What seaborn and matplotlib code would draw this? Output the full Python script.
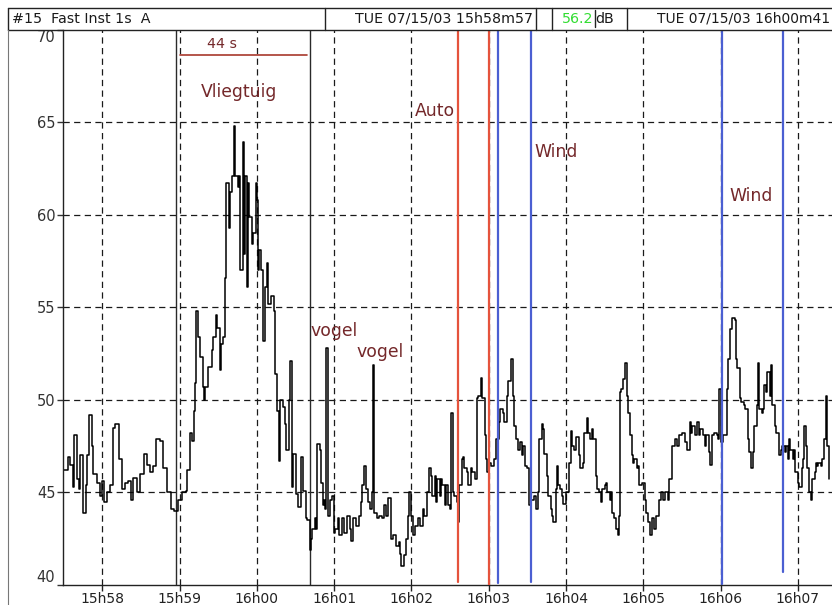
import matplotlib
matplotlib.use("Agg")
import matplotlib.pyplot as plt
import seaborn as sns
import pandas as pd

# Sound level log, A-weighted, fast, 1 s - seconds after 15h58m00
time_s = [
    -30, -27, -25, -23, -22, -20, -18, -17, -15, -13, -12, -10, -8, -7, -4, -2,
    0, 1, 4, 6, 8, 10, 13, 15, 18, 20, 22, 24, 27, 29, 32, 35, 37, 39, 42, 45,
    47, 50, 53, 56, 59, 62, 65, 66, 68, 70, 71, 72, 73, 74, 76, 78, 79, 80, 82,
    85, 86, 88, 89, 91, 92, 94, 95, 96, 98, 99, 101, 102, 103, 105, 106, 107,
    109, 110, 111, 112, 113, 114, 116, 117, 119, 120, 121, 122, 123, 125, 126,
    128, 129, 131, 133, 134, 136, 137, 138, 140, 142, 143, 145, 146, 147, 148,
    150, 152, 154, 156, 158, 159, 161, 162, 163, 165, 166, 167, 169, 170, 171,
    172, 173, 174, 175, 177, 178, 180, 181, 183, 184, 186, 188, 190, 192, 193,
    195, 197, 199, 201, 202, 203, 205, 206, 208, 209, 210, 211, 213, 215, 217,
    219, 220, 222, 224, 226, 228, 230, 231, 232, 234, 236, 237, 238, 240, 241,
    243, 245, 247, 249, 250, 252, 254, 255, 256, 258, 259, 260, 262, 263, 264,
    266, 267, 268, 270, 271, 272, 273, 275, 276, 277, 279, 280, 281, 283, 284,
    286, 287, 289, 291, 292, 294, 295, 297, 298, 299, 300, 302, 304, 306, 308,
    309, 311, 312, 314, 315, 317, 319, 320, 321, 323, 324, 326, 327, 328, 330,
    331, 333, 335, 337, 338, 339, 341, 342, 343, 345, 346, 348, 349, 350, 352,
    353, 354, 355, 357, 358, 360, 362, 364, 365, 366, 368, 370, 371, 373, 374,
    376, 377, 379, 380, 381, 383, 384, 386, 387, 388, 390, 391, 392, 394, 395,
    396, 397, 399, 400, 401, 402, 403, 404, 406, 407, 408, 410, 411, 412, 413,
    415, 416, 417, 419, 421, 422, 424, 425, 427, 428, 430, 432, 434, 435, 437,
    439, 440, 442, 444, 445, 446, 448, 450, 452, 454, 456, 457, 458, 460, 462,
    463, 464, 466, 468, 469, 471, 472, 473, 475, 477, 478, 479, 480, 482, 483,
    485, 486, 487, 489, 491, 492, 493, 495, 496, 498, 499, 501, 502, 504, 505,
    506, 508, 509, 510, 512, 513, 514, 515, 516, 518, 519, 520, 522, 523, 524,
    525, 527, 528, 530, 531, 532, 533, 534, 536, 537, 538, 540, 541, 543, 544,
    545, 546, 547, 549, 550, 551, 553, 554, 555, 556, 558, 559, 560, 562, 563,
    564,
]
level_db = [
    46.2, 46.9, 46.5, 45.3, 48.1, 45.7, 45.2, 47.0, 43.9, 45.4, 47.0, 49.2, 47.5, 46.0, 45.5, 44.8,
    45.6, 44.5, 45.0, 45.4, 48.5, 48.7, 46.8, 45.2, 45.5, 45.6, 44.6, 45.8, 45.0, 46.0, 47.1, 46.5, 46.1, 46.4, 47.9, 47.8,
    46.3, 45.0, 44.1, 44.0, 44.6, 45.0, 45.1, 46.2, 48.2, 47.8, 49.4, 50.9, 54.8, 53.4, 52.3, 50.7, 50.0, 50.7, 51.8,
    52.7, 53.4, 54.6, 53.9, 51.6, 53.0, 53.4, 56.6, 61.7, 59.3, 61.2, 62.1, 64.8, 62.1, 61.5, 62.1, 57.0,
    63.9, 57.9, 62.1, 56.1, 61.7, 59.9, 58.4, 59.0, 61.7, 60.8, 57.0, 58.1, 57.0, 53.2, 56.1,
    57.4, 55.2, 55.6, 54.8, 51.4, 49.4, 46.7, 50.0, 49.6, 48.7, 47.3, 50.0, 52.1, 45.3, 47.1,
    44.9, 44.2, 46.9, 45.1, 43.6, 43.5, 41.9, 42.5, 43.0, 43.6, 43.0, 47.6, 47.3, 45.5, 44.3,
    44.6, 44.1, 52.8, 43.7, 44.6, 44.8, 42.8, 43.0, 43.6, 42.7, 43.6, 42.8, 43.7, 43.0, 42.4,
    43.6, 43.2, 43.7, 44.5, 45.4, 46.4, 45.2, 44.5, 44.1, 45.0, 51.9, 43.9, 43.6, 43.7, 43.6,
    44.3, 43.7, 44.7, 42.5, 42.7, 42.1, 42.3, 41.7, 41.0, 41.6, 42.5, 43.7, 45.0, 43.7, 42.7,
    43.2, 43.6, 43.2, 44.1, 43.7, 45.0, 46.3, 45.9, 44.8, 45.9, 44.5, 45.7, 44.8, 45.7, 45.4,
    44.3, 45.4, 44.3, 44.1, 49.3, 45.0, 44.8, 44.5, 43.4, 45.4, 46.8, 46.9, 46.3, 46.1, 45.4,
    46.3, 46.1, 45.7, 50.1, 50.2, 51.2, 50.1, 48.1, 46.8, 46.1, 46.6, 46.4, 46.8, 47.9, 48.8,
    49.5, 49.3, 48.8, 50.2, 51.0, 52.2, 50.2, 48.6, 47.9, 47.3, 47.7, 47.0, 47.5, 46.4, 46.3,
    44.3, 44.6, 44.8, 44.1, 45.0, 47.9, 48.7, 48.4, 47.1, 45.9, 44.8, 44.1, 43.7, 43.4, 45.2,
    46.4, 45.4, 45.2, 44.8, 44.4, 45.0, 46.6, 48.3, 47.5, 47.3, 48.0, 47.0, 46.3, 46.6, 48.2,
    49.0, 48.2, 47.9, 48.4, 47.9, 45.9, 45.2, 45.0, 44.5, 45.2, 45.4, 45.5, 45.0, 44.6, 45.0,
    43.9, 43.6, 43.0, 42.7, 43.7, 50.4, 50.6, 51.1, 52.0, 50.2, 49.3, 48.1, 47.0, 46.6, 46.8,
    46.3, 46.4, 45.4, 45.5, 44.6, 43.9, 43.4, 42.7, 43.6, 43.0, 43.7, 44.6, 45.0, 44.6, 45.0,
    44.6, 45.7, 47.5, 47.5, 47.9, 47.5, 48.1, 48.2, 47.7, 47.3, 48.8, 48.2, 48.6, 48.1, 48.8,
    48.1, 48.4, 48.1, 47.5, 48.1, 47.2, 46.5, 48.1, 48.2, 48.1, 47.9, 50.6, 47.7, 48.1, 48.1,
    50.6, 52.2, 53.8, 54.4, 54.3, 52.2, 51.7, 50.1, 49.9, 49.7, 49.5, 47.9, 47.2, 46.3, 47.2,
    48.6, 49.7, 52.0, 49.5, 49.3, 49.5, 50.8, 50.4, 51.5, 50.2, 51.9, 49.7, 48.6, 48.2, 48.2,
    47.0, 47.3, 47.5, 47.2, 47.5, 46.8, 47.9, 47.3, 46.8, 47.3, 46.1, 45.5, 45.3, 46.3, 46.8,
    48.6, 47.5, 46.3, 45.0, 44.6, 45.7, 46.1, 46.6, 46.4, 46.6, 46.4, 46.8, 47.9, 50.2, 47.5,
    45.7,
]

tick_seconds = [0, 60, 120, 180, 240, 300, 360, 420, 480, 540]
tick_labels = ["15h58", "15h59", "16h00", "16h01", "16h02", "16h03",
               "16h04", "16h05", "16h06", "16h07"]
level_ticks = [40, 45, 50, 55, 60, 65, 70]

# cursor / event markers (seconds after 15h58m00)
cursor_times = [57, 161]
car_times = [276.4, 300.6]
car_bottoms = [40.15, 40.0]
wind_times = [307.5, 332.7, 481.2, 528.8]
wind_bottoms = [40.1, 40.15, 40.05, 40.7]

notes = ["44 s", "Vliegtuig", "Auto", "Wind", "Wind", "vogel", "vogel"]
note_t = [93, 106, 258, 352, 504, 180, 216]
note_db = [69.2, 66.6, 65.6, 63.4, 61.0, 53.7, 52.6]
note_size = [10.2, 12.4, 12.4, 12.4, 12.4, 12.4, 12.4]

sns.set_theme(style="white")
plt.rcParams["font.family"] = ["DejaVu Sans"]

W, H = 832, 605
fig = plt.figure(figsize=(W / 100, H / 100), dpi=100)
fig.patch.set_facecolor("white")

ax_top, ax_bot = 29.5, 585.0
ax = fig.add_axes([63 / W, (H - ax_bot) / H, (W - 63) / W, (ax_bot - ax_top) / H])
ax.set_facecolor("white")

df = pd.DataFrame({"t": time_s, "db": level_db})
sns.lineplot(data=df, x="t", y="db", ax=ax, color="black", lw=1.1,
             drawstyle="steps-post", estimator=None)

ax.set_xlim(-30.5, 566.5)
ax.set_ylim(40, 70)

# dashed grid
grid_kw = dict(color="#1a1a1a", lw=0.9, ls=(0, (5, 3.5)), zorder=0.5)
for t in tick_seconds:
    ax.axvline(t, **grid_kw)
for v in level_ticks[1:-1]:
    ax.axhline(v, **grid_kw)

# cursors and event lines
for t in cursor_times:
    ax.axvline(t, color="#2a2a2a", lw=1.0, zorder=1)
for t, b in zip(car_times, car_bottoms):
    ax.plot([t, t], [b, 70], color="#e5533c", lw=1.6, zorder=3)
for t, b in zip(wind_times, wind_bottoms):
    ax.plot([t, t], [b, 70], color="#4b5fd2", lw=1.6, zorder=3)

# span bracket under "44 s"
ax.plot([60.3, 159], [68.6, 68.6], color="#a8382c", lw=1.2, zorder=3)

for txt, t, v, s in zip(notes, note_t, note_db, note_size):
    ax.text(t, v, txt, color="#74282a", fontsize=s, ha="center", va="center", zorder=4)

ax.set_xticks(tick_seconds)
ax.set_xticklabels(tick_labels)
ax.set_yticks(level_ticks)
ax.set_yticklabels([str(v) for v in level_ticks])
for lab, v in zip(ax.get_yticklabels(), level_ticks):
    if v == 70:
        lab.set_va("top")
    elif v == 40:
        lab.set_va("bottom")
ax.tick_params(axis="x", direction="out", length=4, width=1, pad=1.0,
               labelsize=10, colors="#222222", bottom=True)
ax.tick_params(axis="y", direction="out", length=4.5, width=1, pad=1.0,
               labelsize=10.5, colors="#333333", left=True)
ax.set_xlabel("")
ax.set_ylabel("")
for side in ["top", "right"]:
    ax.spines[side].set_visible(False)
for side in ["left", "bottom"]:
    ax.spines[side].set_color("#222222")
    ax.spines[side].set_linewidth(1.0)

# header bar and outer frame, drawn in pixel space
ov = fig.add_axes([0, 0, 1, 1], facecolor="none")
ov.set_xlim(0, W)
ov.set_ylim(H, 0)
ov.axis("off")
hdr_top, hdr_bot = 7.5, 29.5
ov.plot([8, W], [hdr_top, hdr_top], color="#222222", lw=1.0)
ov.plot([8, W], [hdr_bot, hdr_bot], color="#222222", lw=1.0)
for xv in [8, 325, 535.5, 551.5, 626.5]:
    ov.plot([xv, xv], [hdr_top, hdr_bot], color="#222222", lw=1.0)
ov.plot([7.5, 7.5], [hdr_bot, H], color="#777777", lw=0.8)
ov.plot([594.5, 594.5], [10, 27], color="#222222", lw=1.0)

hy = 19
hfont = dict(fontsize=10.3, va="center", color="#1a1a1a")
ov.text(12, hy, "#15  Fast Inst 1s  A", ha="left", **hfont)
ov.text(533, hy, "TUE 07/15/03 15h58m57", ha="right", **hfont)
ov.text(593.5, hy, "56.2", ha="right", fontsize=10.3, va="center", color="#33dd33")
ov.text(595.5, hy, "dB", ha="left", **hfont)
ov.text(830, hy, "TUE 07/15/03 16h00m41", ha="right", fontsize=10.0,
        va="center", color="#1a1a1a")

fig.savefig("out.png", dpi=100, facecolor="white")
